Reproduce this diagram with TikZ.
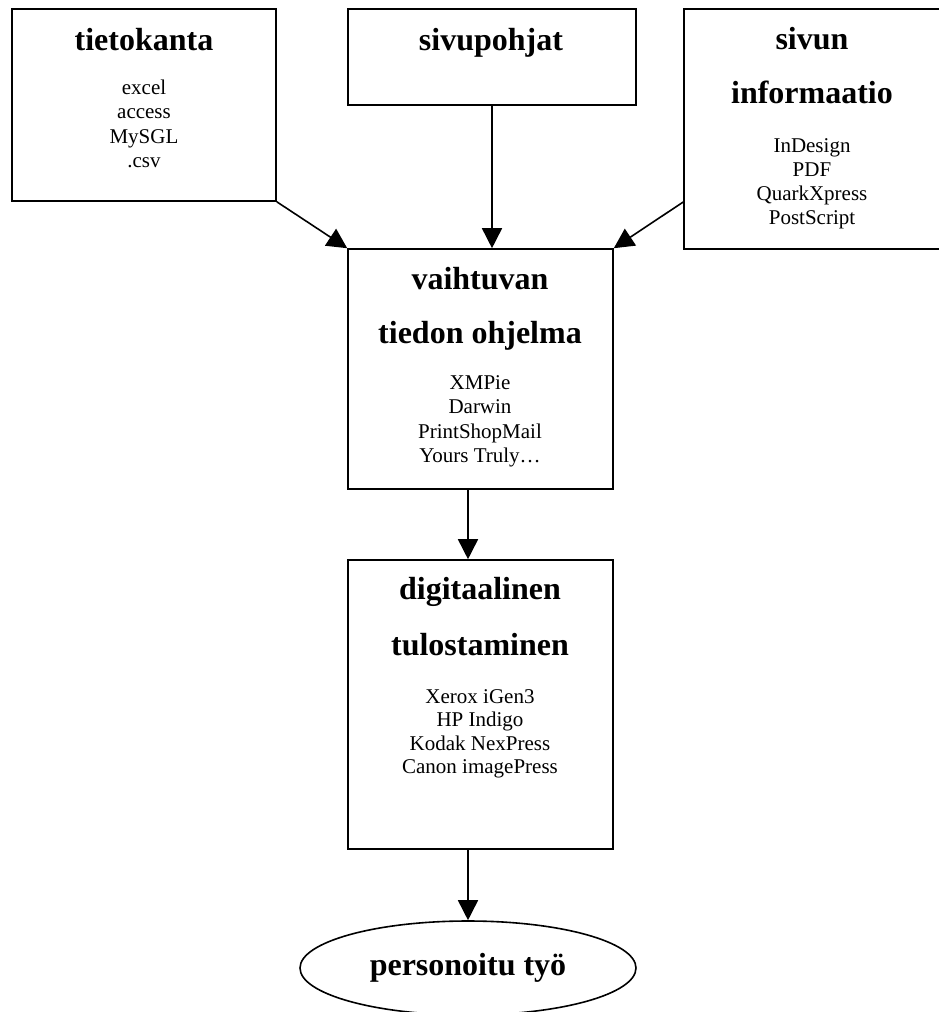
\documentclass[tikz,border=0pt]{standalone}
\usepackage{fontspec}
\setmainfont{Liberation Serif}
\usetikzlibrary{arrows.meta,shapes.geometric}

\begin{document}
\begin{tikzpicture}[x=1pt, y=-1pt, line width=1.6pt,
		box/.style={draw, rectangle, inner sep=0pt},
		head/.style={anchor=base, inner sep=0pt, font=\fontsize{32}{38}\bfseries},
		item/.style={anchor=base, inner sep=0pt, font=\fontsize{21}{25}\selectfont},
		flow/.style={-{Triangle[length=20pt, width=20pt]}}]
	\useasboundingbox (0,0) rectangle (939,1012);

	% Tietokanta
	\node[box, minimum width=264pt, minimum height=192pt] (tieto) at (144,105) {};
	\node[head] (tietoA) at (144,50) {tietokanta};
	\foreach \txt [count=\i] in {excel,access,MySGL,.csv}
		\node[item] (tieto\i) at (144,{94+24.5*(\i-1)}) {\txt};

	% Sivupohjat
	\node[box, minimum width=288pt, minimum height=96pt] (sivu) at (492,57) {};
	\node[head] (sivuA) at (491,50) {sivupohjat};

	% Sivun informaatio
	\node[box, minimum width=256pt, minimum height=240pt] (info) at (812,129) {};
	\node[head] (infoA) at (812,49) {sivun};
	\node[head] (infoB) at (812,103) {informaatio};
	\foreach \txt [count=\i] in {InDesign,PDF,QuarkXpress,PostScript}
		\node[item] (info\i) at (812,{152+24*(\i-1)}) {\txt};

	% Vaihtuvan tiedon ohjelma
	\node[box, minimum width=265pt, minimum height=240pt] (ohj) at (480.5,369) {};
	\node[head] (ohjA) at (480,289) {vaihtuvan};
	\node[head] (ohjB) at (480,343) {tiedon ohjelma};
	\foreach \txt [count=\i] in {XMPie,Darwin,PrintShopMail,Yours Truly…}
		\node[item] (ohj\i) at (480,{389+24.5*(\i-1)}) {\txt};

	% Digitaalinen tulostaminen
	\node[box, minimum width=265pt, minimum height=289pt] (tulos) at (480.5,704.5) {};
	\node[head] (tulosA) at (480,599) {digitaalinen};
	\node[head] (tulosB) at (480,655) {tulostaminen};
	\foreach \txt [count=\i] in {Xerox iGen3,HP Indigo,Kodak NexPress,Canon imagePress}
		\node[item] (tulos\i) at (480,{703+23.5*(\i-1)}) {\txt};

	% Personoitu tyo
	\node[draw, ellipse, minimum width=336pt, minimum height=94pt, inner sep=0pt,
		font=\fontsize{32}{38}\bfseries] (pers) at (468,968) {personoitu työ};

	% Nuolet
	\draw[flow] (tieto.south east) -- (ohj.north west);
	\draw[flow] (sivu.south) -- (sivu.south |- ohj.north);
	\draw[flow] (info.west |- 0,202) -- (ohj.north east);
	\draw[flow] (ohj.south -| pers.north) -- (tulos.north -| pers.north);
	\draw[flow] (tulos.south -| pers.north) -- (pers.north);
\end{tikzpicture}
\end{document}
